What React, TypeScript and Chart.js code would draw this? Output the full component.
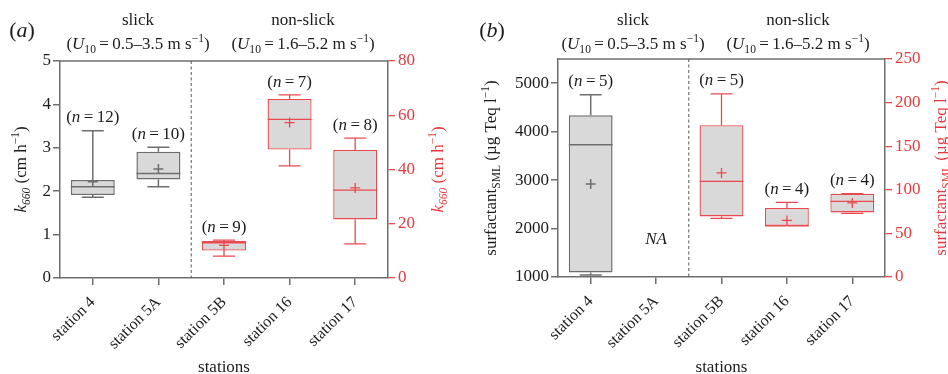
import React, { useEffect, useRef } from 'react';
import { Chart, registerables } from 'chart.js';

Chart.register(...registerables);

// ---------- data ----------
const stations = ['station 4', 'station 5A', 'station 5B', 'station 16', 'station 17'];

// (a) k660 (cm h-1); first two on left axis, rest on right axis
const kMax = [3.39, 3.01, 14.0, 67.5, 51.6];
const kQ3 = [2.26, 2.91, 13.6, 66.0, 47.2];
const kMedian = [2.1, 2.41, 13.0, 58.5, 32.4];
const kMean = [2.22, 2.51, 12.0, 57.3, 33.2];
const kQ1 = [1.91, 2.27, 10.1, 47.4, 21.6];
const kMin = [1.86, 2.1, 8.1, 41.3, 12.6];
const kN = [12, 10, 9, 7, 8];
const kOnRight = [false, false, true, true, true];

// (b) surfactant SML (µg Teq l-1); station 4 on left axis, 5A not available
const sMax = [4760, null, 210, 85.6, 95.5];
const sQ3 = [4340, null, 174, 79.1, 95.5];
const sMedian = [3730, null, 109.6, 58.8, 86.7];
const sMean = [2920, null, 119.3, 64.9, 84.9];
const sQ1 = [1095, null, 69.5, 58.8, 74.1];
const sMin = [1040, null, 67.2, 58.8, 72.9];
const sN = [5, null, 5, 4, 4];
const sOnRight = [false, false, true, true, true];

// axis ranges and tick labels
const kLeftRange = [0, 5];
const kLeftTickValues = [0, 1, 2, 3, 4, 5];
const kRightRange = [0, 80];
const kRightTickValues = [0, 20, 40, 60, 80];
const sLeftRange = [1000, 5500];
const sLeftTickValues = [1000, 2000, 3000, 4000, 5000];
const sRightRange = [0, 250];
const sRightTickValues = [0, 50, 100, 150, 200, 250];

// ---------- styles ----------
const FONT = '"Liberation Serif", "Times New Roman", serif';
const GRAY = '#6e6e6e';
const RED = '#ea4a4f';
const RED_TEXT = '#e8383d';
const FILL = '#d9d9d9';
const TEXT = '#1c1c1c';

type Seg = { t: string; it?: boolean; sub?: boolean; sup?: boolean };

function drawRich(
  ctx: CanvasRenderingContext2D,
  segs: Seg[],
  x: number,
  y: number,
  size: number,
  color: string,
  rotate = 0
) {
  ctx.save();
  ctx.translate(x, y);
  if (rotate) ctx.rotate(rotate);
  const small = size * 0.68;
  const fontFor = (s: Seg) => `${s.it ? 'italic ' : ''}${s.sub || s.sup ? small : size}px ${FONT}`;
  let total = 0;
  const widths = segs.map((s) => {
    ctx.font = fontFor(s);
    const w = ctx.measureText(s.t).width;
    total += w;
    return w;
  });
  let cx = -total / 2;
  ctx.fillStyle = color;
  ctx.textBaseline = 'alphabetic';
  ctx.textAlign = 'left';
  segs.forEach((s, i) => {
    ctx.font = fontFor(s);
    const dy = s.sub ? size * 0.28 : s.sup ? -size * 0.4 : 0;
    ctx.fillText(s.t, cx, dy + size * 0.33);
    cx += widths[i];
  });
  ctx.restore();
}

const headerU = (a: string): Seg[] => [
  { t: '(' },
  { t: 'U', it: true },
  { t: '10', sub: true },
  { t: '\u2009=\u2009' + a + ' m s' },
  { t: '\u22121', sup: true },
  { t: ')' },
];

type Spec = {
  max: (number | null)[];
  q3: (number | null)[];
  med: (number | null)[];
  mean: (number | null)[];
  q1: (number | null)[];
  min: (number | null)[];
  n: (number | null)[];
  right: boolean[];
  leftRange: number[];
  leftTicks: number[];
  rightRange: number[];
  rightTicks: number[];
  pad: { top: number; left: number; right: number; bottom: number };
  label: string;
  labelX: number;
  slickX: number;
  nonSlickX: number;
  leftTitle: Seg[];
  rightTitle: Seg[];
  leftTitleX: number;
  rightTitleX: number;
  na?: { index: number; value: number };
};

function makePlugin(spec: Spec) {
  return {
    id: 'boxExtras',
    afterDatasetsDraw(chart: any) {
      const ctx: CanvasRenderingContext2D = chart.ctx;
      const xs = chart.scales.x;
      const area = chart.chartArea;
      ctx.save();
      // frame top
      ctx.strokeStyle = GRAY;
      ctx.lineWidth = 1.5;
      ctx.beginPath();
      ctx.moveTo(area.left, area.top);
      ctx.lineTo(area.right, area.top);
      ctx.stroke();
      // dashed divider between slick / non-slick
      const xd = (xs.getPixelForValue(1) + xs.getPixelForValue(2)) / 2;
      ctx.setLineDash([3, 2.5]);
      ctx.strokeStyle = '#555';
      ctx.lineWidth = 1;
      ctx.beginPath();
      ctx.moveTo(xd, area.top);
      ctx.lineTo(xd, area.bottom);
      ctx.stroke();
      ctx.setLineDash([]);

      stations.forEach((_, i) => {
        const mx = spec.max[i];
        if (mx == null) return;
        const onRight = spec.right[i];
        const ys = onRight ? chart.scales.y1 : chart.scales.y;
        const color = onRight ? RED : GRAY;
        const meta = chart.getDatasetMeta(onRight ? 1 : 0);
        const el = meta.data[i];
        const x = xs.getPixelForValue(i);
        const w = el && el.width ? el.width : 44;
        const p = (v: number) => ys.getPixelForValue(v);
        ctx.strokeStyle = color;
        ctx.lineWidth = onRight ? 1.3 : 1.5;
        ctx.beginPath();
        // upper whisker
        ctx.moveTo(x, p(spec.q3[i] as number));
        ctx.lineTo(x, p(mx));
        ctx.moveTo(x - w / 4, p(mx));
        ctx.lineTo(x + w / 4, p(mx));
        // lower whisker
        ctx.moveTo(x, p(spec.q1[i] as number));
        ctx.lineTo(x, p(spec.min[i] as number));
        ctx.moveTo(x - w / 4, p(spec.min[i] as number));
        ctx.lineTo(x + w / 4, p(spec.min[i] as number));
        // median
        ctx.moveTo(x - w / 2, p(spec.med[i] as number));
        ctx.lineTo(x + w / 2, p(spec.med[i] as number));
        // mean +
        const my = p(spec.mean[i] as number);
        ctx.moveTo(x - 5, my);
        ctx.lineTo(x + 5, my);
        ctx.moveTo(x, my - 5);
        ctx.lineTo(x, my + 5);
        ctx.stroke();
        // n label
        const nv = spec.n[i];
        if (nv != null) {
          drawRich(ctx, [{ t: '(' }, { t: 'n', it: true }, { t: '\u2009=\u2009' + nv + ')' }], x, p(mx) - 14, 17, TEXT);
        }
      });

      if (spec.na) {
        const x = xs.getPixelForValue(spec.na.index);
        const y = chart.scales.y.getPixelForValue(spec.na.value);
        drawRich(ctx, [{ t: 'NA', it: true }], x, y, 17, TEXT);
      }

      // headers
      drawRich(ctx, [{ t: spec.label.slice(0, 1) }, { t: spec.label.slice(1, 2), it: true }, { t: ')' }], spec.labelX, 30, 22, TEXT);
      drawRich(ctx, [{ t: 'slick' }], spec.slickX, 19, 17, TEXT);
      drawRich(ctx, headerU('0.5\u20133.5'), spec.slickX, 43, 17, TEXT);
      drawRich(ctx, [{ t: 'non-slick' }], spec.nonSlickX, 19, 17, TEXT);
      drawRich(ctx, headerU('1.6\u20135.2'), spec.nonSlickX, 43, 17, TEXT);

      // axis titles
      const cy = (area.top + area.bottom) / 2;
      drawRich(ctx, spec.leftTitle, spec.leftTitleX, cy, 17, TEXT, -Math.PI / 2);
      drawRich(ctx, spec.rightTitle, spec.rightTitleX, cy, 17, RED_TEXT, -Math.PI / 2);
      drawRich(ctx, [{ t: 'stations' }], (area.left + area.right) / 2, 366, 17, TEXT);
      ctx.restore();
    },
  };
}

function makeConfig(spec: Spec): any {
  const boxData = (right: boolean) =>
    stations.map((_, i) =>
      spec.right[i] === right && spec.q1[i] != null ? [spec.q1[i], spec.q3[i]] : null
    );
  const common = {
    grouped: false,
    barPercentage: 0.67,
    categoryPercentage: 1,
    backgroundColor: FILL,
    borderSkipped: false,
  };
  return {
    type: 'bar',
    data: {
      labels: stations,
      datasets: [
        { ...common, data: boxData(false), yAxisID: 'y', borderColor: GRAY, borderWidth: 1.5 },
        { ...common, data: boxData(true), yAxisID: 'y1', borderColor: RED, borderWidth: 1.3 },
      ],
    },
    options: {
      responsive: false,
      maintainAspectRatio: false,
      animation: false,
      layout: { padding: { top: spec.pad.top, left: 0, right: 0, bottom: 0 } },
      plugins: { legend: { display: false }, tooltip: { enabled: false }, title: { display: false } },
      scales: {
        x: {
          type: 'category',
          offset: true,
          grid: { offset: false, drawOnChartArea: false, drawTicks: true, tickLength: 7, color: GRAY, lineWidth: 1.5 },
          border: { display: true, color: GRAY, width: 1.5 },
          ticks: { color: TEXT, font: { family: FONT, size: 16 }, minRotation: 45, maxRotation: 45, padding: 8, autoSkip: false },
          afterFit: (s: any) => {
            s.height = spec.pad.bottom;
          },
        },
        y: {
          type: 'linear',
          position: 'left',
          min: spec.leftRange[0],
          max: spec.leftRange[1],
          grid: { drawOnChartArea: false, drawTicks: true, tickLength: 7, color: GRAY, lineWidth: 1.5 },
          border: { display: true, color: GRAY, width: 1.5 },
          ticks: {
            color: TEXT,
            font: { family: FONT, size: 17 },
            padding: 2,
            callback: (v: any) => String(v),
          },
          afterBuildTicks: (s: any) => {
            s.ticks = spec.leftTicks.map((v) => ({ value: v }));
          },
          afterFit: (s: any) => {
            s.width = spec.pad.left;
          },
        },
        y1: {
          type: 'linear',
          position: 'right',
          min: spec.rightRange[0],
          max: spec.rightRange[1],
          grid: { drawOnChartArea: false, drawTicks: true, tickLength: 7, color: RED, lineWidth: 1.3 },
          border: { display: true, color: GRAY, width: 1.5 },
          ticks: {
            color: RED_TEXT,
            font: { family: FONT, size: 17 },
            padding: 3,
            callback: (v: any) => String(v),
          },
          afterBuildTicks: (s: any) => {
            s.ticks = spec.rightTicks.map((v) => ({ value: v }));
          },
          afterFit: (s: any) => {
            s.width = spec.pad.right;
          },
        },
      },
    },
    plugins: [makePlugin(spec)],
  };
}

const kTitle: Seg[] = [{ t: 'k', it: true }, { t: '660', it: true, sub: true }, { t: ' (cm h' }, { t: '\u22121', sup: true }, { t: ')' }];
const sTitle: Seg[] = [{ t: 'surfactant' }, { t: 'SML', sub: true }, { t: ' (\u00b5g Teq l' }, { t: '\u22121', sup: true }, { t: ')' }];

const specA: Spec = {
  max: kMax,
  q3: kQ3,
  med: kMedian,
  mean: kMean,
  q1: kQ1,
  min: kMin,
  n: kN,
  right: kOnRight,
  leftRange: kLeftRange,
  leftTicks: kLeftTickValues,
  rightRange: kRightRange,
  rightTicks: kRightTickValues,
  pad: { top: 61, left: 60, right: 86, bottom: 96 },
  label: '(a',
  labelX: 22,
  slickX: 138,
  nonSlickX: 303,
  leftTitle: kTitle,
  rightTitle: kTitle,
  leftTitleX: 20,
  rightTitleX: 437,
};

const specB: Spec = {
  max: sMax,
  q3: sQ3,
  med: sMedian,
  mean: sMean,
  q1: sQ1,
  min: sMin,
  n: sN,
  right: sOnRight,
  leftRange: sLeftRange,
  leftTicks: sLeftTickValues,
  rightRange: sRightRange,
  rightTicks: sRightTickValues,
  pad: { top: 59, left: 84, right: 63, bottom: 97 },
  label: '(b',
  labelX: 18,
  slickX: 159,
  nonSlickX: 324,
  leftTitle: sTitle,
  rightTitle: sTitle,
  leftTitleX: 16,
  rightTitleX: 466,
  na: { index: 1, value: 1800 },
};

function Panel({ spec }: { spec: Spec }) {
  const ref = useRef<HTMLCanvasElement>(null);
  useEffect(() => {
    if (!ref.current) return;
    const chart = new Chart(ref.current, makeConfig(spec));
    return () => chart.destroy();
  }, [spec]);
  return <canvas ref={ref} width={474} height={374} style={{ display: 'block', width: 474, height: 374 }} />;
}

export default function App() {
  return (
    <div style={{ position: 'absolute', left: 0, top: 0, width: 948, height: 374, display: 'flex', background: '#fff' }}>
      <Panel spec={specA} />
      <Panel spec={specB} />
    </div>
  );
}
